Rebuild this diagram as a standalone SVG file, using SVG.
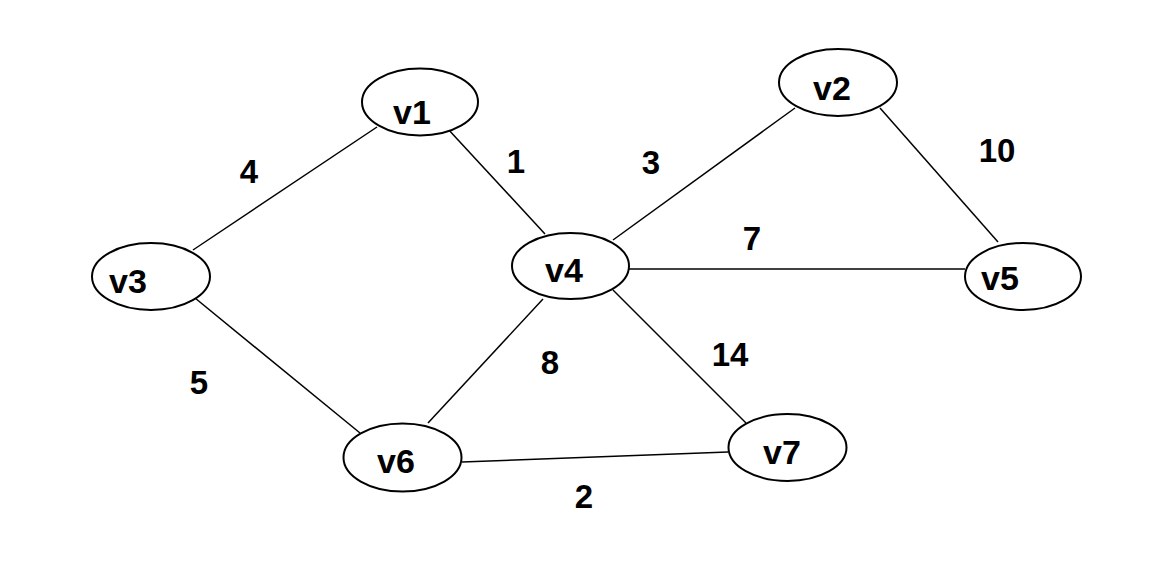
<svg xmlns="http://www.w3.org/2000/svg" width="1157" height="584" viewBox="0 0 1157 584">
<style>
.n ellipse{fill:#fff;stroke:#000;stroke-width:2}
.t{font-family:"Liberation Sans",Arial,sans-serif;font-weight:bold;font-size:33px;fill:#000;text-anchor:middle}
.n .t{font-size:34px}
#edges line{stroke:#000;stroke-width:1.5}
</style>
<rect width="1157" height="584" fill="#fff"/>
<g id="edges">
<line x1="377" y1="127" x2="193" y2="250"/>
<line x1="447" y1="128" x2="545" y2="234"/>
<line x1="795" y1="108" x2="613" y2="240"/>
<line x1="880" y1="108" x2="998" y2="242"/>
<line x1="629" y1="269" x2="965" y2="269"/>
<line x1="195" y1="298" x2="360" y2="433"/>
<line x1="543" y1="299" x2="428" y2="423"/>
<line x1="613" y1="290" x2="746" y2="423"/>
<line x1="462" y1="462" x2="728" y2="452"/>
</g>
<g id="edge-labels">
<text class="t" x="249" y="183">4</text>
<text class="t" x="516" y="173">1</text>
<text class="t" x="651" y="174">3</text>
<text class="t" x="997" y="162">10</text>
<text class="t" x="752" y="250">7</text>
<text class="t" x="199" y="394">5</text>
<text class="t" x="550" y="374">8</text>
<text class="t" x="730" y="366">14</text>
<text class="t" x="584" y="508">2</text>
</g>
<g id="v1" class="n"><ellipse cx="420" cy="102" rx="58" ry="33.5"/><text class="t" x="412" y="124">v1</text></g>
<g id="v2" class="n"><ellipse cx="838" cy="82.5" rx="59" ry="33.5"/><text class="t" x="832" y="100">v2</text></g>
<g id="v3" class="n"><ellipse cx="151" cy="276.5" rx="59" ry="33.5"/><text class="t" x="128" y="293">v3</text></g>
<g id="v4" class="n"><ellipse cx="570.5" cy="266" rx="58.5" ry="33"/><text class="t" x="564" y="282">v4</text></g>
<g id="v5" class="n"><ellipse cx="1023" cy="276.5" rx="58" ry="33.5"/><text class="t" x="1000" y="290">v5</text></g>
<g id="v6" class="n"><ellipse cx="402.5" cy="457.5" rx="59" ry="34"/><text class="t" x="396" y="473">v6</text></g>
<g id="v7" class="n"><ellipse cx="787.5" cy="447.5" rx="59" ry="33.5"/><text class="t" x="782" y="464">v7</text></g>
</svg>
